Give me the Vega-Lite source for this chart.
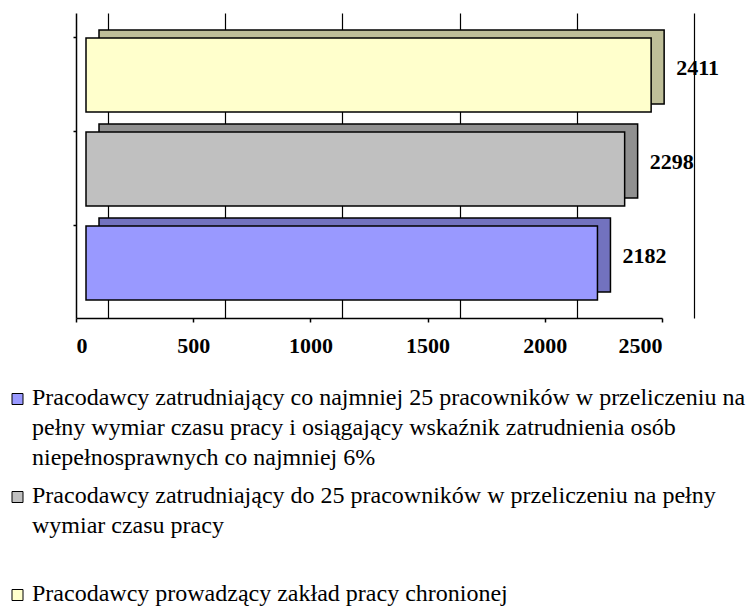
{
  "$schema": "https://vega.github.io/schema/vega-lite/v6.json",
  "width": 586,
  "height": 305,
  "autosize": {"type": "none"},
  "padding": {"left": 76, "top": 13, "right": 87, "bottom": 292},
  "background": "white",
  "config": {
    "font": "Liberation Serif",
    "view": {"stroke": null},
    "axis": {"domainColor": "black", "tickColor": "black", "labelColor": "black", "domainWidth": 1.5, "tickWidth": 1.5},
    "legend": {"labelFont": "Liberation Serif", "labelFontSize": 24, "labelColor": "black"}
  },
  "data": {
    "values": [
      {"series": "Pracodawcy prowadzący zakład pracy chronionej", "value": 2411},
      {"series": "Pracodawcy zatrudniający do 25 pracowników w przeliczeniu na pełny wymiar czasu pracy", "value": 2298},
      {"series": "Pracodawcy zatrudniający co najmniej 25 pracowników w przeliczeniu na pełny wymiar czasu pracy i osiągający wskaźnik zatrudnienia osób niepełnosprawnych co najmniej 6%", "value": 2182}
    ]
  },
  "encoding": {
    "y": {
      "field": "series",
      "type": "nominal",
      "sort": [
        "Pracodawcy prowadzący zakład pracy chronionej",
        "Pracodawcy zatrudniający do 25 pracowników w przeliczeniu na pełny wymiar czasu pracy",
        "Pracodawcy zatrudniający co najmniej 25 pracowników w przeliczeniu na pełny wymiar czasu pracy i osiągający wskaźnik zatrudnienia osób niepełnosprawnych co najmniej 6%"
      ],
      "scale": {"paddingInner": 0.213, "paddingOuter": 0.229, "align": 0.58},
      "axis": {"labels": false, "title": null, "bandPosition": 0, "tickSize": 3, "grid": false}
    },
    "color": {
      "field": "series", "type": "nominal",
      "scale": {
        "domain": [
          "Pracodawcy zatrudniający co najmniej 25 pracowników w przeliczeniu na pełny wymiar czasu pracy i osiągający wskaźnik zatrudnienia osób niepełnosprawnych co najmniej 6%",
          "Pracodawcy zatrudniający do 25 pracowników w przeliczeniu na pełny wymiar czasu pracy",
          "Pracodawcy prowadzący zakład pracy chronionej"
        ],
        "range": ["#9999ff", "#c0c0c0", "#ffffcc"]
      },
      "legend": {
        "orient": "none",
        "legendX": -70.5,
        "legendY": 374,
        "title": null,
        "direction": "vertical",
        "padding": 0,
        "symbolType": "square",
        "symbolSize": 121,
        "symbolStrokeColor": "black",
        "symbolStrokeWidth": 1,
        "symbolOpacity": 1,
        "labelFont": "Liberation Serif",
        "labelFontSize": 24,
        "labelColor": "black",
        "labelLimit": 800,
        "labelOffset": 2.5,
        "labelBaseline": "top",
        "rowPadding": 14,
        "labelExpr": "indexof(datum.label, '6%') >= 0 ? ['Pracodawcy zatrudniający co najmniej 25 pracowników w przeliczeniu na', 'pełny wymiar czasu pracy i osiągający wskaźnik zatrudnienia osób', 'niepełnosprawnych co najmniej 6%'] : indexof(datum.label, 'do 25') >= 0 ? ['Pracodawcy zatrudniający do 25 pracowników w przeliczeniu na pełny', 'wymiar czasu pracy', ''] : datum.label",
        "encode": {"labels": {"update": {"lineHeight": {"value": 30}, "dy": {"value": -13}}}}
      }
    }
  },
  "layer": [
    {
      "mark": {"type": "bar", "xOffset": 23, "yOffset": -8, "stroke": "black", "strokeWidth": 1.5},
      "encoding": {
        "x": {
          "field": "value", "type": "quantitative",
          "scale": {"domain": [0, 2500], "nice": false},
          "axis": {"orient": "top", "grid": true, "gridColor": "black", "gridWidth": 1.2, "gridOpacity": 1, "labels": false, "ticks": false, "domain": false, "tickOffset": 32, "values": [0, 500, 1000, 1500, 2000, 2500], "title": null}
        }
      }
    },
    {
      "mark": {"type": "bar", "xOffset": 23, "yOffset": -8, "color": "black", "opacity": 0.25},
      "encoding": {
        "x": {"field": "value", "type": "quantitative", "scale": {"domain": [0, 2500], "nice": false}, "axis": null},
        "color": {"value": "black"}
      }
    },
    {
      "mark": {"type": "bar", "xOffset": 10, "stroke": "black", "strokeWidth": 1.5},
      "encoding": {
        "x": {
          "field": "value", "type": "quantitative",
          "scale": {"domain": [0, 2500], "nice": false},
          "axis": {"orient": "bottom", "values": [0, 500, 1000, 1500, 2000, 2500], "format": "d", "labelFontSize": 22, "labelFontWeight": "bold", "tickSize": 4, "labelPadding": 13, "title": null, "grid": false}
        }
      }
    },
    {
      "mark": {"type": "text", "align": "left", "baseline": "middle", "dx": 35, "dy": -7, "fontSize": 22, "fontWeight": "bold"},
      "encoding": {
        "x": {"field": "value", "type": "quantitative", "scale": {"domain": [0, 2500], "nice": false}, "axis": null},
        "text": {"field": "value", "type": "quantitative", "format": "d"},
        "color": {"value": "black"}
      }
    }
  ],
  "resolve": {"axis": {"x": "independent"}}
}
